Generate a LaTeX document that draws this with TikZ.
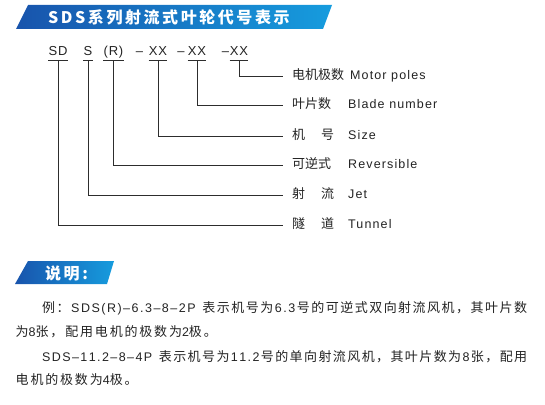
\documentclass[tikz,border=0pt]{standalone}
\usepackage{fontspec}
\setmainfont{Liberation Sans}
\newfontfamily\cjk{Noto Sans CJK SC}
\newfontfamily\cjkpara[LetterSpace=14]{Noto Sans CJK SC}
\newfontfamily\latpara[LetterSpace=7]{Liberation Sans}
\newfontfamily\cjkfull[LetterSpace=4]{Noto Sans CJK SC}
\newfontfamily\latfull[LetterSpace=3]{Liberation Sans}
\newfontfamily\cjkhead[LetterSpace=16]{Noto Sans CJK SC}
\newfontfamily\latlab[LetterSpace=9]{Liberation Sans}
\newfontfamily\latcode[LetterSpace=6]{Liberation Sans}
\def\LatP{\latfull\fontsize{12.5}{15}\selectfont}
\def\CjkP{\cjkfull\fontsize{13}{15}\selectfont}
\def\spreadone#1{\ifx#1\LatP\LatP\else\ifx#1\CjkP\CjkP\else#1\hfil\fi\fi}
\def\spreadloop#1{\ifx#1\relax\else\spreadone#1\expandafter\spreadloop\fi}
\newcommand{\fullline}[1]{\hbox to 485pt{\CjkP\spreadloop#1\relax\unskip}}
\definecolor{bannerL}{RGB}{24,84,172}
\definecolor{bannerR}{RGB}{22,156,222}
\definecolor{ink}{RGB}{35,35,35}
\definecolor{linec}{RGB}{45,45,45}
\tikzset{
  codebox/.style={inner sep=0pt, anchor=base, text height=9pt, text depth=4pt, font=\latcode\fontsize{13}{15}\selectfont, text=ink},
  dashbox/.style={inner sep=0pt, anchor=base, font=\latcode\fontsize{13}{15}\selectfont, text=ink},
  labbox/.style={inner sep=0pt, anchor=west, text height=9pt, text depth=3pt, text=ink},
  conn/.style={draw=linec, line width=0.7pt},
  uline/.style={draw=linec, line width=0.7pt},
  headtext/.style={inner sep=0pt, anchor=west, text=white, font=\cjkhead\bfseries\fontsize{16}{18}\selectfont},
  paratext/.style={inner sep=0pt, anchor=west, text=ink, font=\cjkpara\fontsize{13}{15}\selectfont}
}
\newcommand{\cj}[1]{{\cjk\fontsize{13}{15}\selectfont #1}}
\newcommand{\lt}[1]{{\latlab\fontsize{12.5}{15}\selectfont #1}}
\newcommand{\pl}[1]{{\latpara\fontsize{12.5}{15}\selectfont #1}}
\begin{document}
\begin{tikzpicture}[x=1pt,y=-1pt]
\useasboundingbox (0,0) rectangle (545,404);
% title banner
\shade[left color=bannerL, right color=bannerR] (28,5) -- (332,5) -- (323,29) -- (16,29) -- cycle;
\node[headtext] (title) at (48,17) {SDS系列射流式叶轮代号表示};
% code row
\node[codebox] (sd) at (58,56) {SD};
\node[codebox] (s) at (88,56) {S};
\node[codebox] (r) at (113.5,56) {(R)};
\node[dashbox] (d1) at (139.5,56) {–};
\node[codebox] (x1) at (158,56) {XX};
\node[dashbox] (d2) at (181,56) {–};
\node[codebox] (x2) at (197,56) {XX};
\node[dashbox] (d3) at (225.5,56) {–};
\node[codebox] (x3) at (239,56) {XX};
\foreach \n in {sd,s,r,x1,x2,x3}{
  \draw[uline] (\n.south west) -- (\n.south east);
}
% labels
\node[labbox] (l1) at (292,76) {\makebox[58pt][l]{\cj{电机极数}}\lt{Motor poles}};
\node[labbox] (l2) at (292,105) {\makebox[56pt][l]{\cj{叶片数}}\lt{Blade number}};
\node[labbox] (l3) at (292,136) {\makebox[56pt][l]{\makebox[42pt][s]{\cj{机}\hfill\cj{号}}}\lt{Size}};
\node[labbox] (l4) at (292,165) {\makebox[56pt][l]{\cj{可逆式}}\lt{Reversible}};
\node[labbox] (l5) at (292,195) {\makebox[56pt][l]{\makebox[42pt][s]{\cj{射}\hfill\cj{流}}}\lt{Jet}};
\node[labbox] (l6) at (292,225) {\makebox[56pt][l]{\makebox[42pt][s]{\cj{隧}\hfill\cj{道}}}\lt{Tunnel}};
% connectors
\draw[conn] (x3.south) |- ([xshift=-9pt]l1.west);
\draw[conn] (x2.south) |- ([xshift=-9pt]l2.west);
\draw[conn] (x1.south) |- ([xshift=-9pt]l3.west);
\draw[conn] (r.south) |- ([xshift=-9pt]l4.west);
\draw[conn] (s.south) |- ([xshift=-9pt]l5.west);
\draw[conn] (sd.south) |- ([xshift=-9pt]l6.west);
% second banner
\shade[left color=bannerL, right color=bannerR] (28,261) -- (114,261) -- (107,284) -- (15,284) -- cycle;
\node[headtext] (note) at (45,273) {说明:};
% paragraph
\node[paratext] (p1) at (42,308) {\fullline{例：\LatP SDS(R)–6.3–8–2P\ \CjkP 表示机号为\LatP 6.3\CjkP 号的可逆式双向射流风机，其叶片数}};
\node[paratext] (p2) at (15.5,332) {为\pl{8}张，配用电机的极数为\pl{2}极。};
\node[paratext] (p3) at (42,357) {\fullline{\LatP SDS–11.2–8–4P\ \CjkP 表示机号为\LatP 11.2\CjkP 号的单向射流风机，其叶片数为\LatP 8\CjkP 张，配用}};
\node[paratext] (p4) at (15.5,380) {电机的极数为\pl{4}极。};
\end{tikzpicture}
\end{document}
